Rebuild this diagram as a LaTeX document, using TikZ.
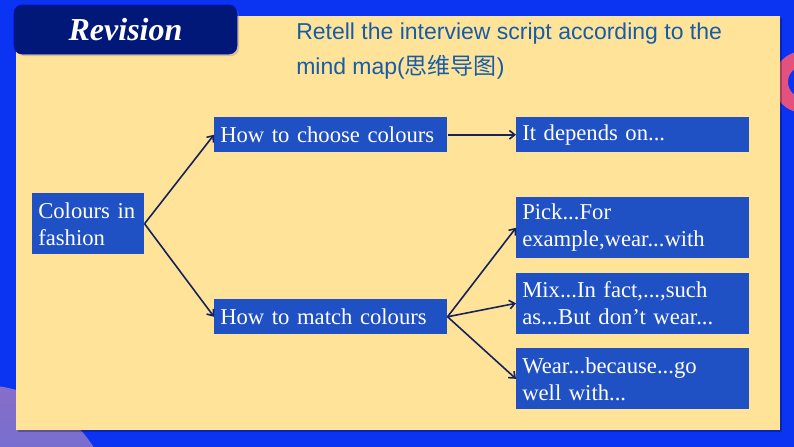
\documentclass[tikz,border=0pt]{standalone}
\usepackage{fontspec}
\setmainfont{Liberation Serif}
\newfontfamily\hintfont{Liberation Sans}
\newfontfamily\cjk{Noto Sans CJK SC}
\usepackage{tikz}
\usetikzlibrary{arrows.meta,positioning,shadows}
\definecolor{bgblue}{RGB}{10,52,242}
\definecolor{panel}{RGB}{255,227,152}
\definecolor{tabnavy}{RGB}{2,24,120}
\definecolor{boxblue}{RGB}{31,80,196}
\definecolor{linknavy}{RGB}{22,34,92}
\definecolor{hintblue}{RGB}{22,92,168}
\definecolor{ringpink}{RGB}{226,82,128}
\definecolor{blobtop}{RGB}{135,110,200}
\definecolor{blobbot}{RGB}{70,112,232}

\begin{document}
\begin{tikzpicture}[
  x=0.75pt, y=-0.75pt,
  box/.style={fill=boxblue, text=white, align=left, anchor=north west,
    inner xsep=4.5pt, inner ysep=1pt, text width=165.75pt, minimum height=26.25pt,
    font=\fontsize{17}{20.25}\selectfont},
  tallbox/.style={box, minimum height=45.75pt},
  link/.style={-{Straight Barb[length=4pt,width=6.5pt]}, line width=1.2pt, linknavy}
]
\useasboundingbox (0,0) rectangle (794,447);
\clip (0,0) rectangle (794,447);
% slide background
\fill[bgblue] (0,0) rectangle (794,447);
\shade[top color=blobtop, bottom color=blobbot] (-20,520) circle (135);
\fill[ringpink, even odd rule] (804,82) circle (31) (804,82) circle (16);
\fill[black, opacity=0.25] (18,18) rectangle (782,432);
\fill[panel] (16,16) rectangle (780,430);

% title tab and task
\node[fill=tabnavy, draw=blue!60!tabnavy, rounded corners=6pt, minimum width=167.25pt, minimum height=36.75pt,
  drop shadow={shadow xshift=1.5pt, shadow yshift=-1.5pt, opacity=0.35},
  text=white, font=\fontsize{24}{28}\selectfont\bfseries\itshape] (title) at (125.5,29.5) {Revision};
\node[anchor=base west, align=left, inner sep=0pt, text=hintblue,
  font=\hintfont\fontsize{17.25}{26.25}\selectfont] (task) at (296,74)
  {Retell the interview script according to the\\mind map({\cjk 思维导图})};

% mind map
\node[box, text width=75pt, minimum height=45.75pt] (topic) at (32,193) {Colours in\\fashion};
\node[box] (choose) at (214,117) {How to choose colours};
\node[box] (match) at (214,299) {How to match colours};
\node[box] (depends) at (516,117) {It depends on...};
\node[tallbox] (pick) at (516,197) {Pick...For\\example,wear...with};
\node[tallbox, below=10.5pt of pick] (mix) {Mix...In fact,...,such\\as...But don’t wear...};
\node[tallbox, below=10.5pt of mix] (wear) {Wear...because...go\\well with...};

\draw[link] (topic.east) -- (choose.west);
\draw[link] (topic.east) -- (match.west);
\draw[link] (choose.east) -- (depends.west);
\draw[link] (match.east) -- (pick.west);
\draw[link] (match.east) -- (mix.west);
\draw[link] (match.east) -- (wear.west);
\end{tikzpicture}
\end{document}
